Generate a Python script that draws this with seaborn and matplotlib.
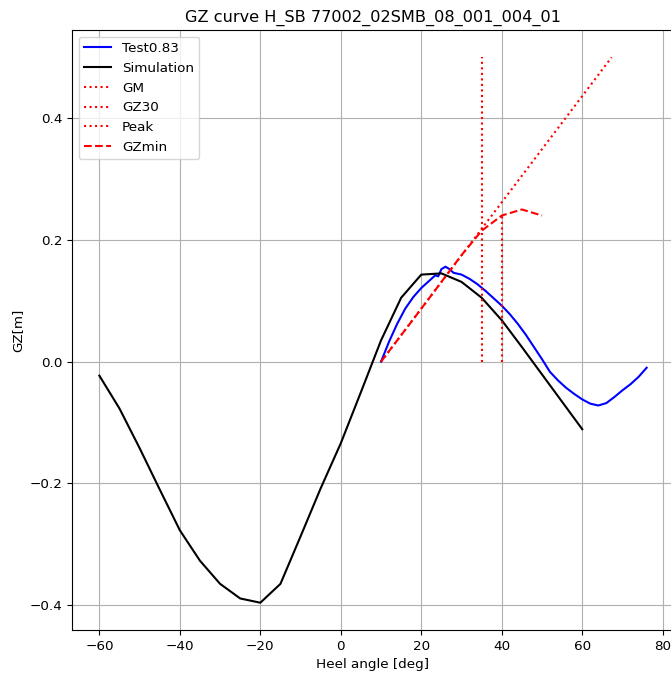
import numpy as np
import pandas as pd
import seaborn as sns
import matplotlib
matplotlib.use("Agg")
import matplotlib.pyplot as plt

plt.rcParams["font.size"] = 9.7

# Simulation GZ curve (every 5 deg)
sim_angle = [-60, -55, -50, -45, -40, -35, -30, -25, -20, -15, -10, -5,
             0, 5, 10, 15, 20, 25, 30, 35, 40, 45, 50, 55, 60]
sim_gz = [-0.023, -0.077, -0.142, -0.210, -0.277, -0.327, -0.365, -0.389, -0.396,
          -0.365, -0.287, -0.208, -0.134, -0.050, 0.035, 0.105, 0.143, 0.145,
          0.131, 0.105, 0.068, 0.024, -0.021, -0.066, -0.111]

# Test curve
test_angle = [10, 12, 14, 16, 18, 20, 22, 23.5, 24.2, 25, 26, 27, 28, 30, 32, 34,
              36, 38, 40, 42, 44, 46, 48, 50, 52, 54, 56, 58, 60, 62, 64, 66,
              68, 70, 72, 74, 76]
test_gz = [0.0, 0.033, 0.062, 0.087, 0.106, 0.121, 0.133, 0.142, 0.140, 0.152,
           0.156, 0.152, 0.146, 0.143, 0.136, 0.127, 0.116, 0.104, 0.092, 0.078,
           0.062, 0.044, 0.024, 0.004, -0.017, -0.031, -0.043, -0.053, -0.062,
           -0.069, -0.072, -0.068, -0.058, -0.047, -0.037, -0.025, -0.010]

# criteria lines
gm_angle = [10, 67.3]
gm_gz = [0.0, 0.5]
gz30_angle = [35, 35]
gz30_gz = [0.0, 0.5]
peak_angle = [40, 40]
peak_gz = [0.0, 0.24]
gzmin_angle = [10, 20, 30, 35, 40, 45, 50]
gzmin_gz = [0.0, 0.087, 0.175, 0.215, 0.24, 0.25, 0.24]

fig = plt.figure(figsize=(6.71, 6.74), dpi=100)
ax = fig.add_axes([72 / 671, 44 / 674, 602 / 671, 600 / 674])

sns.lineplot(x=test_angle, y=test_gz, color="blue", label="Test0.83",
             estimator=None, sort=False, ax=ax)
sns.lineplot(x=sim_angle, y=sim_gz, color="black", label="Simulation",
             estimator=None, sort=False, ax=ax)
sns.lineplot(x=gm_angle, y=gm_gz, color="red", linestyle=":", label="GM",
             estimator=None, sort=False, ax=ax)
sns.lineplot(x=gz30_angle, y=gz30_gz, color="red", linestyle=":", label="GZ30",
             estimator=None, sort=False, ax=ax)
sns.lineplot(x=peak_angle, y=peak_gz, color="red", linestyle=":", label="Peak",
             estimator=None, sort=False, ax=ax)
sns.lineplot(x=gzmin_angle, y=gzmin_gz, color="red", linestyle="--", label="GZmin",
             estimator=None, sort=False, ax=ax)

ax.grid(True)
ax.set_title("GZ curve H_SB 77002_02SMB_08_001_004_01")
ax.set_xlabel("Heel angle [deg]")
ax.set_ylabel("GZ[m]")
ax.legend(loc="upper left")

fig.savefig("out.png", dpi=100)
